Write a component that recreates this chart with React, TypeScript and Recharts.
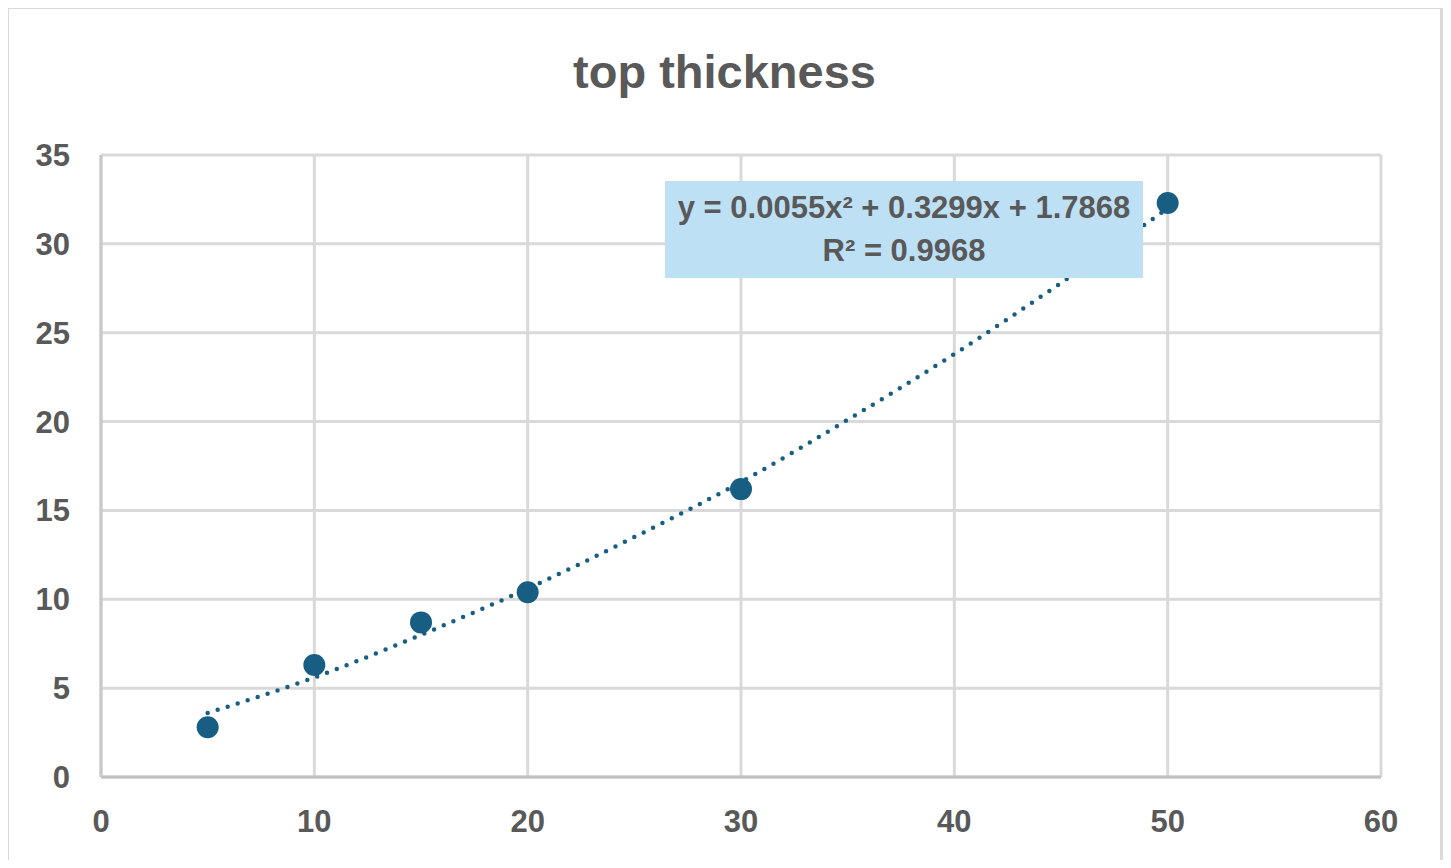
import React from 'react';
import {
  ComposedChart,
  Scatter,
  Line,
  XAxis,
  YAxis,
  CartesianGrid,
} from 'recharts';

// measured points
const thicknessX = [5, 10, 15, 20, 30, 50];
const thicknessY = [2.8, 6.3, 8.7, 10.4, 16.2, 32.3];

// polynomial trendline
const trendX = [5, 10, 15, 20, 25, 30, 35, 40, 45, 50];
const trendY = [3.6, 5.6, 8.0, 10.6, 13.5, 16.6, 20.1, 23.8, 27.8, 32.0];

const xTicks = [0, 10, 20, 30, 40, 50, 60];
const yTicks = [0, 5, 10, 15, 20, 25, 30, 35];

const equationLine = 'y = 0.0055x² + 0.3299x + 1.7868';
const rSquaredLine = 'R² = 0.9968';

const points = thicknessX.map((x, i) => ({ x, y: thicknessY[i] }));
const trend = trendX.map((x, i) => ({ x, y: trendY[i] }));

const FONT = '"Liberation Sans", Arial, sans-serif';
const GREY_TEXT = '#595959';
const MARKER = '#175e82';

const App: React.FC = () => {
  const tickStyle = { fontSize: 31, fontWeight: 700, fill: GREY_TEXT, fontFamily: FONT };

  return (
    <div style={{ position: 'relative', width: 1451, height: 868, margin: -8, background: '#fff' }}>
      {/* outer chart border */}
      <div
        style={{
          position: 'absolute',
          left: 6,
          top: 6,
          width: 1437,
          height: 861,
          border: '3px solid #d9d9d9',
          boxSizing: 'border-box',
        }}
      />
      <div
        style={{
          position: 'absolute',
          left: 0,
          top: 47,
          width: 1449,
          textAlign: 'center',
          fontFamily: FONT,
          fontWeight: 700,
          fontSize: 47,
          lineHeight: '50px',
          color: GREY_TEXT,
        }}
      >
        top thickness
      </div>
      <div style={{ position: 'absolute', left: 0, top: 0 }}>
        <ComposedChart
          width={1451}
          height={868}
          margin={{ top: 155, right: 70, left: 41, bottom: 31 }}
        >
          <CartesianGrid stroke="#d9d9d9" strokeWidth={3} />
          <XAxis
            type="number"
            dataKey="x"
            domain={[0, 60]}
            ticks={xTicks}
            height={60}
            axisLine={{ stroke: '#bfbfbf', strokeWidth: 3 }}
            tickLine={false}
            tickMargin={27}
            tick={tickStyle}
            allowDataOverflow
          />
          <YAxis
            type="number"
            dataKey="y"
            domain={[0, 35]}
            ticks={yTicks}
            width={60}
            axisLine={{ stroke: '#c8c8c8', strokeWidth: 3 }}
            tickLine={false}
            tickMargin={25}
            tick={tickStyle}
            allowDataOverflow
          />
          <Line
            data={trend}
            dataKey="y"
            type="monotone"
            stroke={MARKER}
            strokeWidth={4.5}
            strokeDasharray="0 10.5"
            strokeLinecap="round"
            dot={false}
            activeDot={false}
            isAnimationActive={false}
          />
          <Scatter
            data={points}
            dataKey="y"
            fill={MARKER}
            shape={(props: any) => <circle cx={props.cx} cy={props.cy} r={11} fill={MARKER} />}
            isAnimationActive={false}
          />
        </ComposedChart>
      </div>
      {/* trendline label */}
      <div
        style={{
          position: 'absolute',
          left: 665,
          top: 181,
          width: 478,
          height: 97,
          background: '#bde0f5',
          fontFamily: FONT,
          fontWeight: 700,
          fontSize: 31,
          lineHeight: '43px',
          color: GREY_TEXT,
          textAlign: 'center',
          paddingTop: 5,
          boxSizing: 'border-box',
        }}
      >
        <div>{equationLine}</div>
        <div>{rSquaredLine}</div>
      </div>
    </div>
  );
};

export default App;
